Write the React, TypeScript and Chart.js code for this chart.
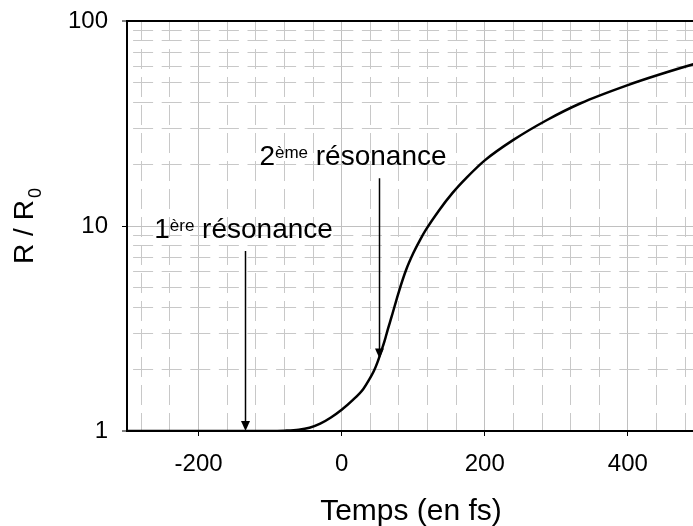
import { useEffect, useRef } from 'react';
import { Chart, registerables } from 'chart.js';
Chart.register(...registerables);

// ---- data ----
const timeFs = [-300, -200, -120, -100, -80, -60, -45, -30, -15, 0, 15, 30, 40, 45, 50, 55, 60, 64, 70, 80, 90, 100, 110, 118, 135, 155, 175, 200, 240, 287, 334, 400, 442, 493, 500];
const ratioR = [1, 1, 1, 1.0, 1.0035, 1.014, 1.037, 1.086, 1.164, 1.27, 1.41, 1.6, 1.82, 1.96, 2.16, 2.43, 2.75, 3.09, 3.63, 4.79, 6.1, 7.36, 8.61, 9.62, 11.78, 14.5, 17.26, 20.9, 26.3, 32.9, 39.7, 48.7, 54.5, 61.7, 62.6];

const xMin = -300;
const xMax = 491;
const xGridValues = [-280, -240, -200, -160, -120, -80, -40, 0, 40, 80, 120, 160, 200, 240, 280, 320, 360, 400, 440, 480];
const xLabelValues = [-200, 0, 200, 400];
const yGridValues = [1, 2, 3, 4, 5, 6, 7, 8, 9, 10, 20, 30, 40, 50, 60, 70, 80, 90, 100];
const yLabelValues = [1, 10, 100];

const arrowTimes = [-135, 52];
const arrowFrom = [7.55, 17.1];
const arrowTo = [1, 2.26];

const labelTimes = [-262, -115];
const labelBaselines = [8.74, 19.85];
const labelOrdinals = ['1', '2'];
const labelSups = ['ère', 'ème'];
const labelWord = 'résonance';

const xTitle = 'Temps (en fs)';
const yTitleMain = 'R / R';
const yTitleSub = '0';

const FONT = '"Liberation Sans", Arial, sans-serif';

const annotationPlugin = {
  id: 'annotations',
  afterDatasetsDraw(chart: any) {
    const { ctx, scales } = chart;
    const x = scales.x;
    const y = scales.y;
    ctx.save();
    for (let i = 0; i < arrowTimes.length; i++) {
      const px = Math.round(x.getPixelForValue(arrowTimes[i])) + 0.5;
      const y1 = y.getPixelForValue(arrowFrom[i]);
      const y2 = y.getPixelForValue(arrowTo[i]);
      ctx.strokeStyle = '#000';
      ctx.fillStyle = '#000';
      ctx.lineWidth = 1.5;
      ctx.beginPath();
      ctx.moveTo(px, y1);
      ctx.lineTo(px, y2 - 8);
      ctx.stroke();
      ctx.beginPath();
      ctx.moveTo(px, y2);
      ctx.lineTo(px - 4.5, y2 - 10);
      ctx.lineTo(px + 4.5, y2 - 10);
      ctx.closePath();
      ctx.fill();
    }
    ctx.textBaseline = 'alphabetic';
    ctx.textAlign = 'left';
    for (let i = 0; i < labelTimes.length; i++) {
      let px = x.getPixelForValue(labelTimes[i]);
      const py = y.getPixelForValue(labelBaselines[i]);
      ctx.font = '28px ' + FONT;
      ctx.fillText(labelOrdinals[i], px, py);
      px += ctx.measureText(labelOrdinals[i]).width;
      ctx.font = '17px ' + FONT;
      ctx.fillText(labelSups[i], px, py - 7);
      px += ctx.measureText(labelSups[i]).width;
      ctx.font = '28px ' + FONT;
      px += ctx.measureText(' ').width;
      ctx.fillText(labelWord, px, py);
    }
    ctx.restore();
  },
  afterDraw(chart: any) {
    const { ctx, chartArea } = chart;
    ctx.save();
    ctx.fillStyle = '#000';
    ctx.textBaseline = 'alphabetic';
    ctx.font = '30px ' + FONT;
    ctx.textAlign = 'center';
    ctx.fillText(xTitle, 411, 520);
    ctx.textAlign = 'left';
    ctx.font = '28px ' + FONT;
    const w1 = ctx.measureText(yTitleMain).width;
    ctx.font = '18px ' + FONT;
    const w2 = ctx.measureText(yTitleSub).width + 2;
    const cy = (chartArea.top + chartArea.bottom) / 2;
    ctx.translate(33, cy + (w1 + w2) / 2);
    ctx.rotate(-Math.PI / 2);
    ctx.font = '28px ' + FONT;
    ctx.fillText(yTitleMain, 0, 0);
    ctx.font = '18px ' + FONT;
    ctx.fillText(yTitleSub, w1 + 2, 8);
    ctx.restore();
  },
};

const zeroPadding = (s: any) => {
  s.paddingTop = 0;
  s.paddingBottom = 0;
  s.paddingLeft = 0;
  s.paddingRight = 0;
};

export default function App() {
  const ref = useRef<HTMLCanvasElement>(null);
  useEffect(() => {
    Chart.defaults.font.family = FONT;
    const points = timeFs.map((t, i) => ({ x: t, y: ratioR[i] }));
    const chart = new Chart(ref.current as HTMLCanvasElement, {
      type: 'line',
      data: {
        datasets: [
          {
            data: points,
            borderColor: '#000',
            borderWidth: 2.5,
            pointRadius: 0,
            fill: false,
            cubicInterpolationMode: 'monotone',
          },
        ],
      },
      options: {
        responsive: false,
        animation: false,
        layout: { padding: { top: 21, right: 0, bottom: 0, left: 0 } },
        plugins: { legend: { display: false }, tooltip: { enabled: false } },
        scales: {
          x: {
            type: 'linear',
            min: xMin,
            max: xMax,
            afterBuildTicks: (s: any) => {
              s.ticks = xGridValues.map((v) => ({ value: v }));
            },
            afterFit: (s: any) => {
              s.height = 95;
              zeroPadding(s);
            },
            ticks: {
              autoSkip: false,
              maxRotation: 0,
              padding: 14,
              color: '#000',
              font: { size: 24, family: FONT },
              callback: (v: any) => (xLabelValues.includes(Number(v)) ? String(v) : ''),
            },
            grid: {
              color: (c: any) => (xLabelValues.includes(c.tick?.value) ? '#c0c0c0' : '#c8c8c8'),
              lineWidth: 1,
              tickLength: 5,
              tickWidth: 1,
              tickColor: (c: any) => (xLabelValues.includes(c.tick?.value) ? '#000' : 'rgba(0,0,0,0)'),
            },
            border: {
              display: true,
              color: '#000',
              width: 2,
              dash: (c: any) => (xLabelValues.includes(c.tick?.value) ? [] : [20, 8]),
              dashOffset: 0,
            },
          },
          y: {
            type: 'logarithmic',
            min: 1,
            max: 100,
            afterBuildTicks: (s: any) => {
              s.ticks = yGridValues.map((v) => ({ value: v }));
            },
            afterFit: (s: any) => {
              s.width = 127;
              zeroPadding(s);
            },
            ticks: {
              autoSkip: false,
              padding: 14,
              color: '#000',
              font: { size: 24, family: FONT },
              callback: (v: any) => (yLabelValues.includes(Number(v)) ? String(v) : ''),
            },
            grid: {
              color: (c: any) => {
                const v = c.tick?.value;
                if (v === 100 || v === 1) return '#000';
                return v === 10 ? '#c0c0c0' : '#c8c8c8';
              },
              lineWidth: (c: any) => {
                const v = c.tick?.value;
                return v === 100 || v === 1 ? 2 : 1;
              },
              tickLength: 5,
              tickWidth: 1,
              tickColor: (c: any) => (yLabelValues.includes(c.tick?.value) ? '#000' : 'rgba(0,0,0,0)'),
            },
            border: {
              display: true,
              color: '#000',
              width: 2,
              dash: (c: any) => (yLabelValues.includes(c.tick?.value) ? [] : [20, 8.6]),
              dashOffset: 23.5,
            },
          },
        },
      },
      plugins: [annotationPlugin],
    } as any);
    return () => chart.destroy();
  }, []);
  return (
    <div style={{ position: 'fixed', left: 0, top: 0, width: 693, height: 526, background: '#fff' }}>
      <canvas ref={ref} width={693} height={526} style={{ display: 'block', width: 693, height: 526 }} />
    </div>
  );
}
